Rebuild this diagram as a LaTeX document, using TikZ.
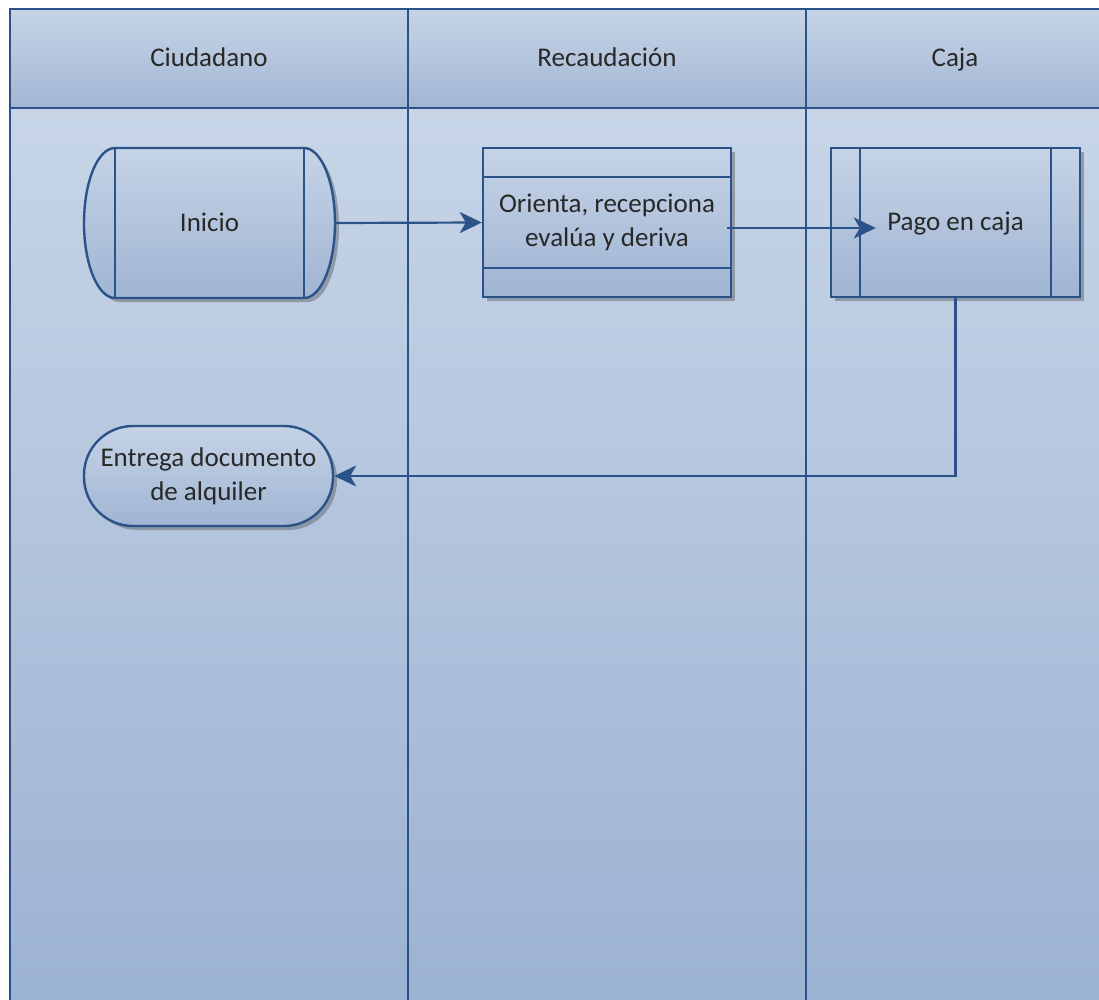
\documentclass[tikz,border=0pt]{standalone}
\usepackage{fontspec}
\setmainfont{Carlito}
\usetikzlibrary{arrows.meta,calc,shadows}

\definecolor{laneline}{RGB}{44,83,137}
\definecolor{bgtop}{RGB}{199,213,231}
\definecolor{bgbot}{RGB}{156,178,210}
\definecolor{hdtop}{RGB}{198,212,230}
\definecolor{hdbot}{RGB}{162,182,212}
\definecolor{ndtop}{RGB}{197,211,230}
\definecolor{ndbot}{RGB}{160,181,211}
\definecolor{txt}{RGB}{40,40,40}
\definecolor{shade}{RGB}{105,110,120}

\pgfdeclarelayer{lanes}
\pgfdeclarelayer{shapes}
\pgfsetlayers{lanes,shapes,main}

\tikzset{
  every node/.style={text=txt, font=\fontsize{27}{34}\selectfont},
  oneline/.style={text height=20pt, text depth=3pt},
  lanehead/.style={draw=laneline, line width=2.6pt, top color=hdtop, bottom color=hdbot,
    minimum height=99pt, inner sep=0pt, outer sep=0pt, oneline},
  lanebody/.style={draw=laneline, line width=2.6pt, top color=bgtop, bottom color=bgbot,
    minimum height=900pt, anchor=north, inner sep=0pt, outer sep=0pt},
  boxshadow/.style={drop shadow={shadow xshift=4pt, shadow yshift=-4pt, fill=shade, opacity=0.55}},
  flowbox/.style={draw=laneline, line width=2.4pt, top color=ndtop, bottom color=ndbot,
    align=center, inner sep=0pt, boxshadow},
  divider/.style={draw=laneline, line width=2.4pt},
  flow/.style={draw=laneline, line width=2.2pt, -{Stealth[length=22pt,width=21pt,inset=6pt]}},
}

\begin{document}
\begin{tikzpicture}[x=1pt,y=-1pt]
\useasboundingbox (0,0) rectangle (1099,1000);

% swimlanes
\begin{pgfonlayer}{lanes}
  \node[lanehead, minimum width=398pt] (h1) at (209,58.5) {Ciudadano};
  \node[lanehead, minimum width=398pt] (h2) at (607,58.5) {Recaudación};
  \node[lanehead, minimum width=298pt] (h3) at (955,58.5) {Caja};
  \node[lanebody, minimum width=398pt] (l1) at (h1.south) {};
  \node[lanebody, minimum width=398pt] (l2) at (h2.south) {};
  \node[lanebody, minimum width=298pt] (l3) at (h3.south) {};
\end{pgfonlayer}

% start terminal with curved ends
\node[draw=laneline, line width=2.4pt, minimum width=189pt, minimum height=150pt,
      outer xsep=31pt, outer ysep=0pt, inner sep=0pt, oneline] (inicio) at (209.5,223) {Inicio};
\begin{pgfonlayer}{shapes}
  \path[flowbox] ($(inicio.north west)+(31,0)$) -- ($(inicio.north east)+(-31,0)$)
    arc[start angle=90, end angle=-90, x radius=31pt, y radius=75pt]
    -- ($(inicio.south west)+(31,0)$)
    arc[start angle=-90, end angle=-270, x radius=31pt, y radius=75pt] -- cycle;
\end{pgfonlayer}

% process with header and footer bands
\node[flowbox, minimum width=248pt, minimum height=149pt] (orienta) at (607,222.5)
  {Orienta, recepciona\\evalúa y deriva};
\draw[divider] ($(orienta.north west)+(0,30)$) -- ($(orienta.north east)+(0,30)$);
\draw[divider] ($(orienta.south west)+(0,-30)$) -- ($(orienta.south east)+(0,-30)$);

% predefined process
\node[flowbox, minimum width=249pt, minimum height=149pt, oneline] (pago) at (955.5,222.5) {Pago en caja};
\draw[divider] ($(pago.north west)+(30,0)$) -- ($(pago.south west)+(30,0)$);
\draw[divider] ($(pago.north east)+(-30,0)$) -- ($(pago.south east)+(-30,0)$);

% end terminal
\node[flowbox, rounded corners=49pt, minimum width=249pt, minimum height=100pt] (entrega)
  at (208.5,476) {Entrega documento\\de alquiler};

% connectors
\draw[flow] (inicio.east) -- (orienta.west);
\draw[flow] ($(orienta.east)+(-5,5.5)$) -- ($(pago.west)+(46,5.5)$);
\draw[flow] (pago.south) |- (entrega.east);
\end{tikzpicture}
\end{document}
